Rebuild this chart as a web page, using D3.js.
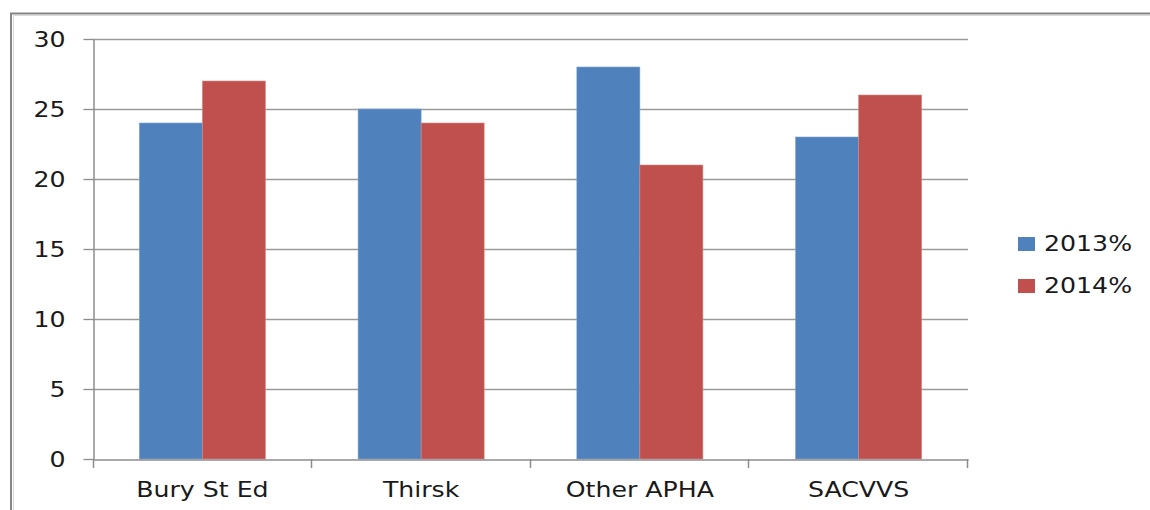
<!DOCTYPE html>
<html><head><meta charset="utf-8">
<script src="https://cdn.jsdelivr.net/npm/d3@7"></script>
<style>body{margin:0;background:#fff}svg{display:block}</style>
</head><body>
<svg id="c" width="1150" height="510"></svg>
<script>
const categories = ["Bury St Ed", "Thirsk", "Other APHA", "SACVVS"];
const seriesNames = ["2013%", "2014%"];
const values2013 = [24, 25, 28, 23];
const values2014 = [27, 24, 21, 26];
const yTicks = [0, 5, 10, 15, 20, 25, 30];
const colors = ["#4F81BD", "#C0504D"];

(function () {
const svg = d3.select("#c");
const pLeft = 93, pRight = 968, pTop = 39, pBottom = 459;
const SX = 1.23;
const FS = 20.5;
const font = "DejaVu Sans, sans-serif";

// outer frame
svg.append("rect").attr("x", 11).attr("y", 13.5).attr("width", 1200).attr("height", 600)
  .attr("fill", "none").attr("stroke", "#858585").attr("stroke-width", 2);
svg.append("path").attr("d", "M13.5,1200V15.5H1200").attr("fill","none").attr("stroke","#d9d9d9").attr("stroke-width",1);

const x = d3.scaleBand().domain(categories).range([pLeft, pRight]).paddingInner(0).paddingOuter(0);
const y = d3.scaleLinear().domain([0, 30]).range([pBottom, pTop]);
const inner = d3.scaleBand().domain(seriesNames).range([0, x.bandwidth()]).paddingInner(0).paddingOuter(0.735);

// gridlines
svg.append("g").selectAll("line").data(yTicks.filter(d => d > 0)).join("line")
  .attr("x1", pLeft).attr("x2", pRight)
  .attr("y1", d => Math.round(y(d)) + 0.5).attr("y2", d => Math.round(y(d)) + 0.5)
  .attr("stroke", "#9a9a9a").attr("stroke-width", 1.3);

// bars
const data = categories.map((c, i) => ({c, vals: [values2013[i], values2014[i]]}));
const g = svg.append("g").selectAll("g").data(data).join("g")
  .attr("transform", d => `translate(${x(d.c)},0)`);
g.selectAll("rect").data(d => d.vals.map((v, j) => ({s: seriesNames[j], v, j}))).join("rect")
  .attr("x", d => inner(d.s)).attr("width", inner.bandwidth())
  .attr("y", d => y(d.v)).attr("height", d => y(0) - y(d.v))
  .attr("fill", d => colors[d.j])
  .attr("stroke", d => d.j === 0 ? "#7fa3d1" : "#d88886").attr("stroke-width", 0.6);

// y axis
const yAxis = svg.append("g").attr("transform", `translate(${pLeft + 0.5},0)`)
  .call(d3.axisLeft(y).tickValues(yTicks).tickSize(10).tickSizeOuter(0).tickPadding(0).tickFormat(d3.format("d")));
yAxis.select(".domain").attr("stroke", "#8c8c8c").attr("stroke-width", 1.5);
yAxis.selectAll(".tick line").attr("stroke", "#8c8c8c").attr("stroke-width", 1.3);
yAxis.selectAll(".tick text").each(function() {
  d3.select(this).attr("x", null).attr("dy", null)
   .attr("text-anchor", "end").attr("dominant-baseline", "central")
   .attr("transform", `translate(-28,0) scale(${SX},1)`);
});
yAxis.selectAll("text").attr("font-family", font).attr("font-size", FS).attr("fill", "#1a1a1a");

// x axis
const xAxis = svg.append("g").attr("transform", `translate(0,${pBottom + 0.5})`)
  .call(d3.axisBottom(x).tickSize(0).tickSizeOuter(0).tickPadding(0));
xAxis.select(".domain").attr("stroke", "#8c8c8c").attr("stroke-width", 1.5);
xAxis.selectAll(".tick line").remove();
xAxis.selectAll(".tick text").each(function() {
  d3.select(this).attr("y", null).attr("dy", null)
   .attr("transform", `translate(0,37) scale(${SX},1)`);
});
xAxis.selectAll("text").attr("font-family", font).attr("font-size", FS).attr("fill", "#1a1a1a");
// category boundary ticks
const bounds = categories.map(c => x(c)).concat([pRight]);
svg.append("g").selectAll("line").data(bounds).join("line")
  .attr("x1", d => d === pLeft ? d + 0.5 : Math.round(d) - 0.5).attr("x2", d => d === pLeft ? d + 0.5 : Math.round(d) - 0.5)
  .attr("y1", pBottom).attr("y2", pBottom + 9)
  .attr("stroke", "#8c8c8c").attr("stroke-width", 1.5);

// legend
const leg = svg.append("g").selectAll("g").data(seriesNames).join("g")
  .attr("transform", (d, i) => `translate(1018,${244 + i * 42})`);
leg.append("rect").attr("x", 0).attr("y", -7).attr("width", 17).attr("height", 14)
  .attr("fill", (d, i) => colors[i]);
leg.append("text").attr("dominant-baseline", "central")
  .attr("transform", `translate(26,0) scale(${SX},1)`)
  .attr("font-family", font).attr("font-size", FS).attr("fill", "#1a1a1a").text(d => d);
})();
</script>
</body></html>
